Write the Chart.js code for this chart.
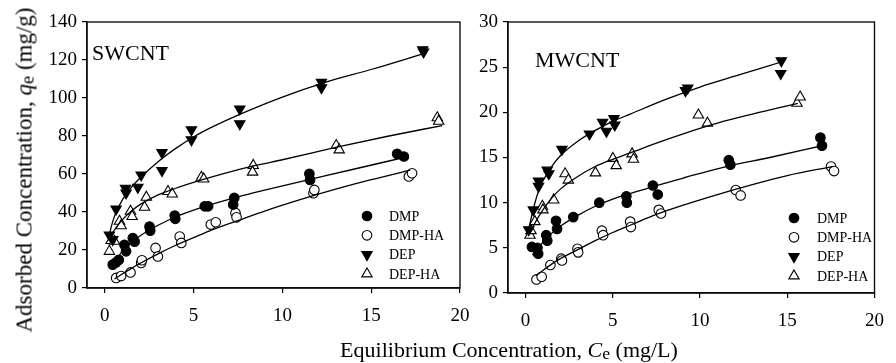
<!DOCTYPE html>
<html lang="en">
<head>
<meta charset="UTF-8">
<title>Isotherms</title>
<script src="https://cdn.jsdelivr.net/npm/chart.js@4.4.1/dist/chart.umd.min.js"></script>
<style>
    body { margin: 0; background: #fff; }
    #wrap { position: relative; width: 896px; height: 363px; font-family: "Liberation Serif", "Times New Roman", serif; color: #000; }
    #wrap canvas { position: absolute; left: 0; top: 0; }
    .lbl { position: absolute; white-space: nowrap; line-height: 1; }
    .sub { font-size: 0.8em; position: relative; top: 0.12em; }
</style>
</head>
<body>
<div id="wrap">
    <canvas id="sw" width="896" height="363"></canvas>
    <canvas id="mw" width="896" height="363"></canvas>
    <div class="lbl" style="left:92px;top:42px;font-size:22px;">SWCNT</div>
    <div class="lbl" style="left:535px;top:49px;font-size:22px;">MWCNT</div>
    <div class="lbl" style="left:24px;top:170px;font-size:23px;transform:translate(-50%,-50%) rotate(-90deg);">Adsorbed Concentration, <i>q</i><span class="sub">e</span> (mg/g)</div>
    <div class="lbl" style="left:509px;top:350px;font-size:22px;transform:translate(-50%,-50%);">Equilibrium Concentration, <i>C</i><span class="sub">e</span> (mg/L)</div>
</div>
<script>
// series names and ticks
const seriesNames = ['DMP', 'DMP-HA', 'DEP', 'DEP-HA'];
const xTicks = [0, 5, 10, 15, 20];
const swYTicks = [0, 20, 40, 60, 80, 100, 120, 140];
const mwYTicks = [0, 5, 10, 15, 20, 25, 30];

// SWCNT measured points (Ce mg/L, qe mg/g)
const swDmpCe = [0.45, 0.64, 0.79, 1.11, 1.2, 1.58, 1.68, 2.52, 2.56, 3.94, 3.97, 5.63, 5.82, 7.23, 7.29, 11.52, 11.56, 16.46, 16.84];
const swDmpQe = [12.3, 13.5, 14.8, 22.7, 19.3, 26.3, 24.4, 32.3, 30.2, 38.1, 36.4, 43.0, 43.0, 43.9, 47.4, 60.1, 56.9, 70.6, 69.2];
const swDmpHaCe = [0.64, 0.92, 1.45, 2.05, 2.09, 2.86, 2.99, 4.22, 4.31, 5.97, 6.25, 7.36, 7.42, 11.75, 11.8, 17.12, 17.3];
const swDmpHaQe = [5.3, 6.3, 8.2, 13.2, 14.6, 21.1, 16.6, 27.1, 23.7, 33.4, 34.6, 39.5, 37.2, 49.9, 51.6, 58.7, 60.4];
const swDepCe = [0.26, 0.45, 0.64, 1.17, 1.2, 1.86, 2.05, 3.22, 3.22, 4.88, 4.88, 7.6, 7.6, 12.2, 12.2, 17.9, 17.95];
const swDepQe = [27.9, 25.5, 41.6, 52.5, 50.0, 53.0, 59.5, 71.3, 61.8, 83.3, 78.0, 94.2, 86.4, 108.2, 105.4, 125.4, 124.2];
const swDepHaCe = [0.26, 0.36, 0.55, 0.83, 0.92, 1.45, 1.54, 2.34, 2.24, 3.56, 3.8, 5.44, 5.57, 8.36, 8.32, 13.03, 13.2, 18.72, 18.8];
const swDepHaQe = [19.3, 25.0, 24.6, 35.1, 32.8, 40.4, 37.6, 47.8, 42.5, 50.8, 49.5, 58.3, 57.4, 64.5, 61.0, 75.0, 72.7, 89.6, 87.8];

// SWCNT fitted curves
const swDmpFitCe = [0.4, 0.7, 1, 1.5, 2, 3, 4, 5, 6, 7.5, 9, 11.5, 14, 17];
const swDmpFitQe = [11, 15.5, 19.5, 24, 27.5, 33, 37.5, 41, 44, 48, 51.5, 57, 62.5, 69];
const swDmpHaFitCe = [0.55, 1, 1.5, 2, 3, 4, 5, 6, 7.5, 9, 11, 13, 15, 17.2];
const swDmpHaFitQe = [4.7, 7.5, 10.3, 13, 18, 22.5, 26.5, 30.5, 35.5, 40.5, 46.5, 52, 57, 62];
const swDepFitCe = [0.25, 0.5, 1, 1.5, 2, 3, 4, 5, 6, 7.5, 10, 12.5, 15, 18];
const swDepFitQe = [28, 36.5, 46.5, 53, 58, 66.5, 73.5, 79.5, 84.5, 91, 100.5, 108.5, 115, 123.5];
const swDepHaFitCe = [0.35, 0.5, 1, 1.5, 2, 3, 4, 5.5, 7, 8.5, 10, 13, 16, 19];
const swDepHaFitQe = [27.5, 30, 36, 40.5, 44, 49, 52.5, 57, 61, 64.5, 67.5, 74, 80, 85.5];

// MWCNT measured points
const mwDmpCe = [0.37, 0.69, 0.73, 1.19, 1.25, 1.75, 1.81, 2.74, 4.23, 5.78, 5.81, 7.3, 7.58, 11.65, 11.74, 16.9, 16.99];
const mwDmpQe = [5.1, 5.0, 4.35, 6.4, 5.8, 8.0, 7.1, 8.4, 10.0, 10.7, 10.0, 11.9, 10.9, 14.7, 14.2, 17.2, 16.3];
const mwDmpHaCe = [0.63, 0.93, 1.43, 2.05, 2.09, 2.98, 3.02, 4.38, 4.45, 6.0, 6.04, 7.64, 7.77, 12.05, 12.33, 17.51, 17.68];
const mwDmpHaQe = [1.5, 1.8, 3.1, 3.8, 3.6, 4.9, 4.5, 6.9, 6.4, 7.9, 7.3, 9.2, 8.8, 11.4, 10.8, 14.0, 13.5];
const mwDepCe = [0.19, 0.45, 0.75, 0.75, 1.25, 1.34, 2.09, 3.67, 4.42, 4.64, 5.07, 5.12, 9.17, 9.3, 14.66, 14.63];
const mwDepQe = [7.0, 9.2, 12.4, 11.8, 13.6, 13.2, 15.9, 17.6, 18.9, 17.9, 19.3, 18.6, 22.4, 22.7, 25.7, 24.3];
const mwDepHaCe = [0.26, 0.32, 0.54, 0.97, 1.0, 1.62, 2.27, 2.46, 4.01, 5.01, 5.2, 6.11, 6.19, 9.91, 10.43, 15.56, 15.74];
const mwDepHaQe = [6.4, 6.9, 7.9, 9.6, 9.2, 10.3, 13.2, 12.5, 13.3, 14.9, 14.1, 15.4, 14.8, 19.7, 18.8, 21.0, 21.7];

// MWCNT fitted curves
const mwDmpFitCe = [0.4, 0.7, 1, 1.5, 2, 3, 4, 5, 6, 7.5, 9, 11.5, 14, 17];
const mwDmpFitQe = [4.2, 5.0, 5.6, 6.6, 7.4, 8.6, 9.6, 10.4, 11, 11.9, 12.7, 14, 15, 16.3];
const mwDmpHaFitCe = [0.6, 1, 1.5, 2, 3, 4, 5, 6, 7.5, 9, 11, 13, 15, 17.6];
const mwDmpHaFitQe = [1.9, 2.5, 3.2, 3.8, 4.8, 5.8, 6.7, 7.5, 8.7, 9.7, 10.9, 12, 13, 14];
const mwDepFitCe = [0.2, 0.45, 0.75, 1, 1.5, 2, 3, 4, 5, 6, 8, 10, 12, 14.7];
const mwDepFitQe = [7.2, 9.3, 11.3, 12.4, 14, 15.2, 16.8, 18, 19, 19.8, 21.4, 22.8, 24, 25.6];
const mwDepHaFitCe = [0.2, 0.5, 1, 1.5, 2, 3, 4, 5, 6, 7.5, 9, 11, 13, 15.6];
const mwDepHaFitQe = [6.5, 7.6, 9.2, 10.5, 11.5, 12.9, 14, 14.8, 15.5, 16.6, 17.6, 18.8, 19.8, 21.0];

const markers = [
    { style: 'circle', fill: '#000', rot: 0, r: 4.8 },
    { style: 'circle', fill: '#fff', rot: 0, r: 4.8 },
    { style: 'triangle', fill: '#000', rot: 180, r: 6 },
    { style: 'triangle', fill: '#fff', rot: 0, r: 6 }
];

function pts(xs, ys) { return xs.map((x, i) => ({ x: x, y: ys[i] })); }

function drawMarker(ctx, m, x, y) {
    ctx.beginPath();
    if (m.style === 'circle') {
        ctx.arc(x, y, m.r, 0, Math.PI * 2);
    } else {
        let a = m.rot * Math.PI / 180;
        for (let k = 0; k < 3; k++) {
            let px = x + Math.sin(a) * m.r, py = y - Math.cos(a) * m.r;
            if (k === 0) ctx.moveTo(px, py); else ctx.lineTo(px, py);
            a += Math.PI * 2 / 3;
        }
        ctx.closePath();
    }
    ctx.fillStyle = m.fill;
    ctx.fill();
    ctx.lineWidth = 1.1;
    ctx.strokeStyle = '#000';
    ctx.stroke();
}

const framePlugin = {
    id: 'frame',
    afterDatasetsDraw(chart) {
        const a = chart.chartArea, ctx = chart.ctx;
        ctx.save();
        ctx.strokeStyle = '#111';
        ctx.lineWidth = 1.4;
        ctx.strokeRect(a.left, a.top, a.right - a.left, a.bottom - a.top);
        ctx.restore();
    }
};

const legendPlugin = {
    id: 'isoLegend',
    afterDraw(chart, args, opts) {
        const ctx = chart.ctx;
        ctx.save();
        ctx.font = '14px "Liberation Serif", serif';
        ctx.textBaseline = 'middle';
        seriesNames.forEach((name, i) => {
            const y = opts.y + i * opts.dy;
            drawMarker(ctx, markers[i], opts.x, y);
            ctx.fillStyle = '#000';
            ctx.fillText(name, opts.textX, y + 1);
        });
        ctx.restore();
    }
};

function makeChart(id, scatterSets, fitSets, yTicks, yMax, layout, legend) {
    const datasets = [];
    fitSets.forEach((f, i) => {
        datasets.push({
            type: 'line', label: seriesNames[i] + ' fit', data: pts(f[0], f[1]),
            borderColor: '#000', borderWidth: 1.3, pointRadius: 0, fill: false,
            cubicInterpolationMode: 'monotone', order: 1
        });
    });
    scatterSets.forEach((s, i) => {
        const m = markers[i];
        datasets.push({
            type: 'scatter', label: seriesNames[i], data: pts(s[0], s[1]),
            pointStyle: m.style, rotation: m.rot, pointRadius: m.r, pointHoverRadius: m.r,
            backgroundColor: m.fill, borderColor: '#000', borderWidth: 1.1, order: 2
        });
    });
    const tickFont = { family: '"Liberation Serif", serif', size: 19 };
    return new Chart(document.getElementById(id), {
        data: { datasets: datasets },
        options: {
            responsive: false,
            animation: false,
            events: [],
            layout: { padding: layout.padding },
            plugins: { legend: { display: false }, tooltip: { enabled: false }, isoLegend: legend },
            scales: {
                x: {
                    type: 'linear', min: -1, max: 20,
                    afterBuildTicks: s => { s.ticks = xTicks.map(v => ({ value: v })); },
                    afterFit: s => { s.height = 44; },
                    grid: { drawOnChartArea: false, drawTicks: true, tickLength: 5, color: '#000', lineWidth: 1.2 },
                    border: { display: true, color: '#000', width: 1.4 },
                    ticks: { color: '#000', font: tickFont, padding: 12, maxRotation: 0 }
                },
                y: {
                    type: 'linear', min: 0, max: yMax,
                    afterBuildTicks: s => { s.ticks = yTicks.map(v => ({ value: v })); },
                    afterFit: s => { s.width = layout.yWidth; },
                    grid: { drawOnChartArea: false, drawTicks: true, tickLength: 5, color: '#000', lineWidth: 1.2 },
                    border: { display: true, color: '#000', width: 1.4 },
                    ticks: { color: '#000', font: tickFont, padding: 5 }
                }
            }
        },
        plugins: [framePlugin, legendPlugin]
    });
}

makeChart('sw',
    [[swDmpCe, swDmpQe], [swDmpHaCe, swDmpHaQe], [swDepCe, swDepQe], [swDepHaCe, swDepHaQe]],
    [[swDmpFitCe, swDmpFitQe], [swDmpHaFitCe, swDmpHaFitQe], [swDepFitCe, swDepFitQe], [swDepHaFitCe, swDepHaFitQe]],
    swYTicks, 140,
    { padding: { left: 0, right: 436, top: 22, bottom: 31 }, yWidth: 87 },
    { x: 367, textX: 389, y: 216, dy: 19.3 });

makeChart('mw',
    [[mwDmpCe, mwDmpQe], [mwDmpHaCe, mwDmpHaQe], [mwDepCe, mwDepQe], [mwDepHaCe, mwDepHaQe]],
    [[mwDmpFitCe, mwDmpFitQe], [mwDmpHaFitCe, mwDmpHaFitQe], [mwDepFitCe, mwDepFitQe], [mwDepHaFitCe, mwDepHaFitQe]],
    mwYTicks, 30,
    { padding: { left: 460, right: 12, top: 22, bottom: 26 }, yWidth: 48 },
    { x: 794, textX: 817, y: 218, dy: 19.3 });
</script>
</body>
</html>
